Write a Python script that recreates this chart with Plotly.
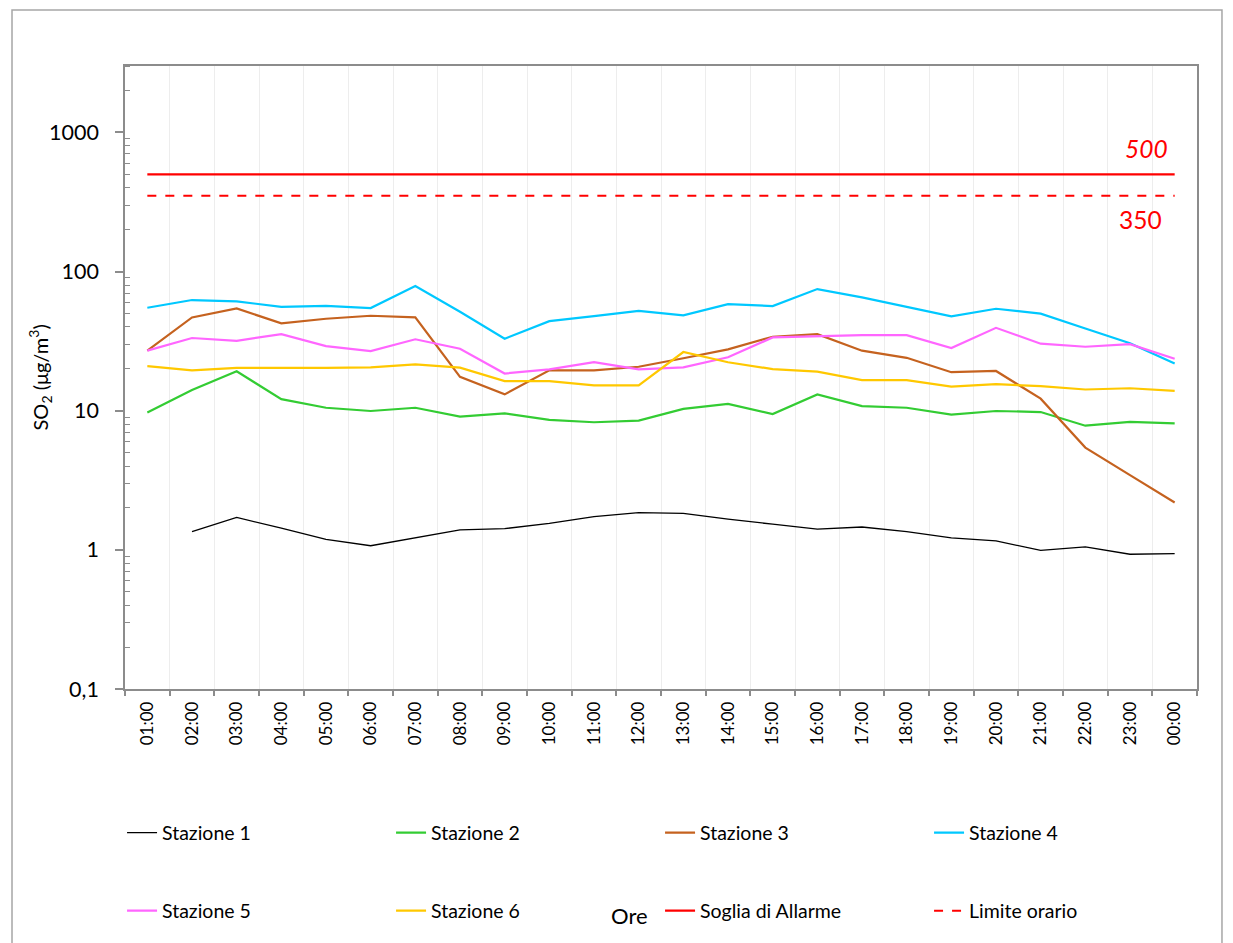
import plotly.graph_objects as go

hours = ["01:00", "02:00", "03:00", "04:00", "05:00", "06:00", "07:00", "08:00",
         "09:00", "10:00", "11:00", "12:00", "13:00", "14:00", "15:00", "16:00",
         "17:00", "18:00", "19:00", "20:00", "21:00", "22:00", "23:00", "00:00"]

stazione1 = [None, 1.35, 1.71, 1.43, 1.19, 1.07, 1.22, 1.39, 1.42, 1.55, 1.73, 1.85,
             1.83, 1.66, 1.53, 1.41, 1.46, 1.35, 1.22, 1.16, 0.99, 1.05, 0.93, 0.94]
stazione2 = [9.7, 14.1, 19.2, 12.1, 10.5, 9.95, 10.5, 9.06, 9.58, 8.58, 8.26, 8.48,
             10.3, 11.2, 9.47, 13.1, 10.8, 10.5, 9.36, 9.95, 9.78, 7.8, 8.3, 8.12]
stazione3 = [27.0, 46.8, 54.3, 42.4, 45.8, 48.1, 46.8, 17.5, 13.1, 19.5, 19.5, 20.7,
             23.8, 27.6, 34.0, 35.5, 27.0, 24.0, 18.9, 19.3, 12.2, 5.43, 3.44, 2.19]
stazione4 = [54.9, 62.4, 61.0, 55.8, 56.7, 54.6, 78.6, 51.4, 32.9, 44.0, 47.8, 52.2,
             48.4, 58.3, 56.5, 74.8, 65.2, 55.5, 47.6, 54.0, 49.8, 39.0, 30.5, 21.8]
stazione5 = [27.0, 33.3, 31.8, 35.5, 29.1, 26.8, 32.6, 27.9, 18.5, 19.8, 22.3, 19.8,
             20.5, 24.2, 33.6, 34.4, 34.9, 34.9, 28.2, 39.4, 30.3, 28.8, 30.1, 23.6]
stazione6 = [20.9, 19.5, 20.3, 20.2, 20.3, 20.5, 21.5, 20.4, 16.3, 16.3, 15.2, 15.2,
             26.4, 22.3, 19.9, 19.1, 16.6, 16.6, 14.9, 15.5, 15.0, 14.2, 14.5, 13.9]
soglia_allarme = [500] * 24
limite_orario = [350] * 24

y_tickvals = [0.1, 1, 10, 100, 1000]
y_ticktext = ["0,1", "1", "10", "100", "1000"]
y_minor = [m * 10 ** e for e in range(-1, 3) for m in range(2, 10)] + [2000, 3000]

FONT = "Lato, 'Open Sans', sans-serif"

fig = go.Figure()

series = [
    ("Stazione 1", stazione1, "#000000", 1.3, "solid", "legend"),
    ("Stazione 2", stazione2, "#33CC33", 2.2, "solid", "legend"),
    ("Stazione 3", stazione3, "#C5621F", 2.2, "solid", "legend"),
    ("Stazione 4", stazione4, "#00C8FF", 2.2, "solid", "legend"),
    ("Stazione 5", stazione5, "#FF66FF", 2.2, "solid", "legend2"),
    ("Stazione 6", stazione6, "#FFC800", 2.2, "solid", "legend2"),
    ("Soglia di Allarme", soglia_allarme, "#FF0000", 2.2, "solid", "legend2"),
    ("Limite orario", limite_orario, "#FF0000", 2.0, "dash", "legend2"),
]
for name, vals, color, width, dash, leg in series:
    fig.add_trace(go.Scatter(
        x=hours, y=vals, name=name, mode="lines",
        line=dict(color=color, width=width, dash=dash),
        connectgaps=False, legend=leg,
    ))

axis_color = "#8C8C8C"
legend_common = dict(
    orientation="h", xref="container", yref="container",
    x=0.0925, xanchor="left", yanchor="middle",
    entrywidth=224, entrywidthmode="pixels",
    font=dict(size=19.5, family=FONT), bgcolor="rgba(0,0,0,0)",
)
fig.update_layout(
    width=1233, height=943,
    margin=dict(l=117, r=44, t=58, b=262),
    paper_bgcolor="white", plot_bgcolor="white",
    font=dict(family=FONT, color="#000000", size=16),
    xaxis=dict(
        type="category", categoryorder="array", categoryarray=hours,
        tickson="boundaries", showgrid=True, gridcolor="#EDEDED", gridwidth=1,
        ticks="outside", ticklen=5, tickcolor=axis_color, tickwidth=1.5,
        showline=True, linecolor=axis_color, linewidth=1.5, mirror=True,
        tickangle=-90, tickfont=dict(size=17, family=FONT),
        ticklabelstandoff=4,
        range=[-0.5, 23.5], zeroline=False,
    ),
    yaxis=dict(
        type="log", range=[-1, 3.4771],
        tickvals=y_tickvals, ticktext=y_ticktext,
        ticks="outside", ticklen=8, tickcolor=axis_color, tickwidth=1.5,
        showline=True, linecolor=axis_color, linewidth=1.5, mirror=True,
        showgrid=False, zeroline=False,
        tickfont=dict(size=21.5, family=FONT),
        ticklabelstandoff=12,
        minor=dict(tickvals=y_minor, ticks="inside", ticklen=5,
                   tickcolor=axis_color, tickwidth=1.2, showgrid=False),
    ),
    legend=dict(legend_common, y=0.1251),
    legend2=dict(legend_common, y=0.0424),
    showlegend=True,
)

fig.add_annotation(
    text="SO<sub>2</sub> (μg/m<sup>3</sup>)", textangle=-90,
    xref="paper", yref="paper", x=-0.0793, y=0.5,
    xanchor="center", yanchor="middle", showarrow=False,
    font=dict(size=20, family=FONT),
)
fig.add_annotation(
    text="Ore", xref="paper", yref="paper", x=0.471, y=-0.363,
    xanchor="center", yanchor="middle", showarrow=False,
    font=dict(size=22, family=FONT),
)
fig.add_annotation(
    text="<i>500</i>", xref="paper", yref="paper", x=0.953, y=0.868,
    xanchor="center", yanchor="middle", showarrow=False,
    font=dict(size=24.5, family=FONT, color="#FF0000"),
)
fig.add_annotation(
    text="350", xref="paper", yref="paper", x=0.947, y=0.753,
    xanchor="center", yanchor="middle", showarrow=False,
    font=dict(size=24.5, family=FONT, color="#FF0000"),
)

# outer chart border
fig.add_shape(
    type="rect", xref="paper", yref="paper",
    x0=-0.1054, x1=1.0233, y0=-0.45, y1=1.0899,
    line=dict(color="#A6A6A6", width=1.5), fillcolor="rgba(0,0,0,0)",
    layer="below",
)

fig.write_html("out.html")
